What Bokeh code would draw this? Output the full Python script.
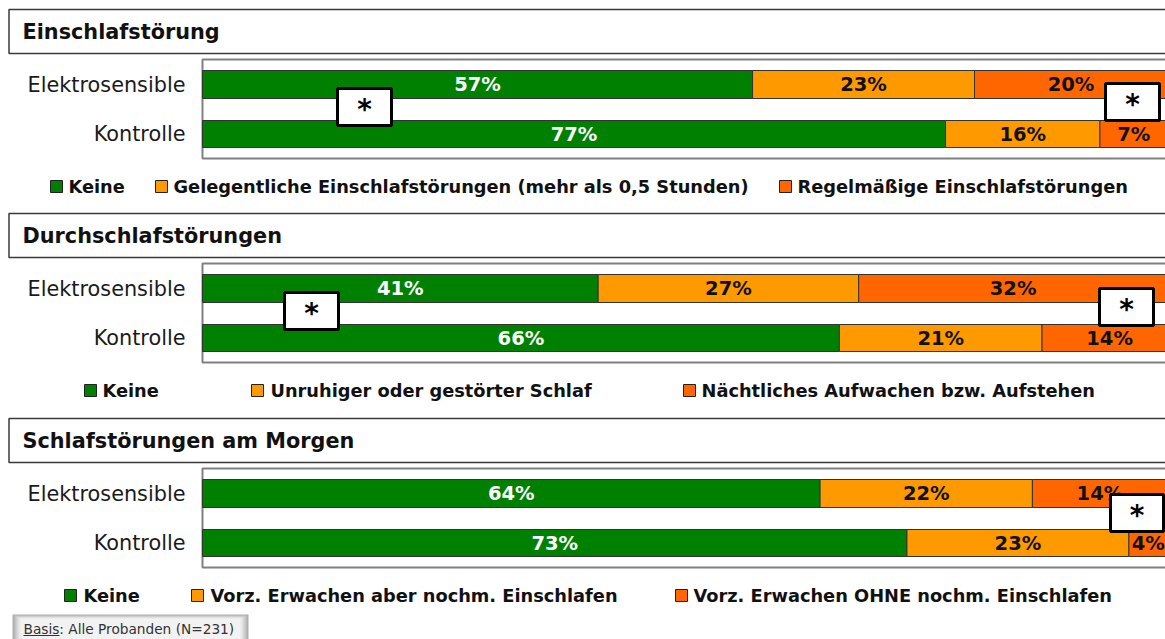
from bokeh.plotting import figure
from bokeh.models import Range1d, ColumnDataSource
from bokeh.core.properties import value
from bokeh.embed import file_html
from bokeh.resources import INLINE

# ---------------- data ----------------
panel_titles = ["Einschlafstörung", "Durchschlafstörungen", "Schlafstörungen am Morgen"]
groups = ["Elektrosensible", "Kontrolle"]
keine = [[57, 77], [41, 66], [64, 73]]
mittel = [[23, 16], [27, 21], [22, 23]]
stark = [[20, 7], [32, 14], [14, 4]]
legend_labels = [
    ["Keine", "Gelegentliche Einschlafstörungen (mehr als 0,5 Stunden)", "Regelmäßige Einschlafstörungen"],
    ["Keine", "Unruhiger oder gestörter Schlaf", "Nächtliches Aufwachen bzw. Aufstehen"],
    ["Keine", "Vorz. Erwachen aber nochm. Einschlafen", "Vorz. Erwachen OHNE nochm. Einschlafen"],
]
basis_text = "Basis: Alle Probanden (N=231)"

# ---------------- style / layout ----------------
COLORS = ["#008000", "#FF9900", "#FF6600"]
LABEL_COLORS = ["white", "#111111", "#111111"]
FONT = "DejaVu Sans"
W, H = 1165, 639
PX0, PPP = 202.0, 9.65           # pixel of 0 %, pixels per percent
XS = -PX0 / PPP
XE = XS + W / PPP


def X(px):
    return XS + px / PPP


panel_offsets = [0, 204, 409]
bar_centers = [84, 133.5]
bar_heights = [28, 27]
legend_sq = [[50, 155, 779], [84, 251, 683], [64, 191, 675]]
legend_tx = [[68, 173, 797], [102, 270, 701], [83, 210, 693]]
star_boxes = [
    [(337, 391, 88, 125), (1105, 1159, 83, 120)],
    [(284, 338, 88, 125), (1099, 1153, 84, 121)],
    [(1110, 1163, 85, 122)],
]

p = figure(width=W, height=H, x_range=Range1d(XS, XE), y_range=Range1d(H, 0),
           output_backend="svg", toolbar_location=None,
           x_axis_type=None, y_axis_type=None, min_border=0)
p.outline_line_color = None
p.background_fill_color = "white"
p.border_fill_color = "white"

for k, off in enumerate(panel_offsets):
    # title box
    p.quad(left=[X(8.5)], right=[X(1300)], top=[off + 9], bottom=[off + 53],
           fill_color="white", line_color="#3a3a3a", line_width=1.5)
    p.text(x=[X(22)], y=[off + 31], text=[panel_titles[k]], text_font=value(FONT),
           text_font_style="bold", text_font_size="20.8px", text_color="#111111",
           text_baseline="middle", text_align="left")
    # frame of the plot area
    p.quad(left=[0], right=[X(1300)], top=[off + 59], bottom=[off + 158],
           fill_color="white", line_color="#808080", line_width=2)

    # stacked bars
    ys, lefts, rights, cols = [], [], [], []
    lx, ly, lt, lc = [], [], [], []
    for g in range(2):
        vals = [keine[k][g], mittel[k][g], stark[k][g]]
        cum = 0
        for s, v in enumerate(vals):
            ys.append(off + bar_centers[g])
            lefts.append(cum)
            rights.append(cum + v)
            cols.append(COLORS[s])
            lx.append(cum + v / 2.0)
            ly.append(off + bar_centers[g])
            lt.append(f"{v}%")
            lc.append(LABEL_COLORS[s])
            cum += v
    src = ColumnDataSource(dict(y=ys, left=lefts, right=rights, color=cols,
                                h=[bar_heights[0]] * 3 + [bar_heights[1]] * 3))
    p.hbar(y="y", left="left", right="right", height="h", fill_color="color",
           line_color="#333333", line_width=1, source=src)
    lsrc = ColumnDataSource(dict(x=lx, y=ly, t=lt, c=lc))
    p.text(x="x", y="y", text="t", text_color="c", source=lsrc,
           text_font=value(FONT), text_font_style="bold", text_font_size="19.5px",
           text_align="center", text_baseline="middle")

    # category labels
    p.text(x=[X(185)] * 2, y=[off + c for c in bar_centers], text=groups,
           text_font=value(FONT), text_font_size="20.8px", text_color="#1a1a1a",
           text_align="right", text_baseline="middle")

    # significance boxes
    for (x0, x1, y0, y1) in star_boxes[k]:
        p.quad(left=[X(x0)], right=[X(x1)], top=[off + y0], bottom=[off + y1],
               fill_color="white", line_color="#000000", line_width=3)
        p.text(x=[X((x0 + x1) / 2.0)], y=[off + (y0 + y1) / 2.0 + 2], text=["*"],
               text_font=value(FONT), text_font_style="bold", text_font_size="28px",
               text_color="#000000", text_align="center", text_baseline="middle")

    # legend
    ly0 = off + 186
    for s in range(3):
        sx = legend_sq[k][s]
        p.quad(left=[X(sx)], right=[X(sx + 12)], top=[ly0 - 6], bottom=[ly0 + 6],
               fill_color=COLORS[s], line_color="#222222", line_width=1)
        p.text(x=[X(legend_tx[k][s])], y=[ly0], text=[legend_labels[k][s]],
               text_font=value(FONT), text_font_style="bold", text_font_size="17.8px",
               text_color="#111111", text_align="left", text_baseline="middle")

# basis box (gradient approximation)
shades = ["#b0b0b0", "#c4c4c4", "#d8d8d8", "#e8e8e8", "#f2f2f2"]
for i, c in enumerate(shades):
    p.quad(left=[X(12 + i * 2)], right=[X(248 - i * 2)], top=[614 + i], bottom=[639],
           fill_color=c, line_color=None)
p.text(x=[X(23)], y=[628], text=[basis_text], text_font=value(FONT),
       text_font_size="13.7px", text_color="#333333", text_align="left",
       text_baseline="middle")
p.segment(x0=[X(23)], x1=[X(59)], y0=[635], y1=[635], line_color="#333333", line_width=1)

open("out.html", "w").write(file_html(p, INLINE))
